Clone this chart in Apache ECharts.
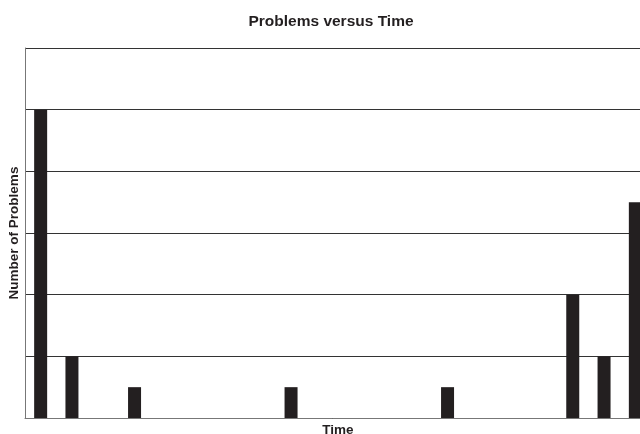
<!DOCTYPE html>
<html>
<head>
<meta charset="utf-8">
<script src="https://cdn.jsdelivr.net/npm/echarts@6/dist/echarts.min.js"></script>
<style>html,body{margin:0;padding:0;background:#fff;}#c{width:640px;height:434px;}</style>
</head>
<body>
<div id="c"></div>
<script>
var categories = ['1','2','3','4','5','6','7','8','9','10','11','12','13','14','15','16','17','18','19','20'];
var problems = [5, 1, 0, 0.5, 0, 0, 0, 0, 0.5, 0, 0, 0, 0, 0.5, 0, 0, 0, 2, 1, 3.5];
var chart = echarts.init(document.getElementById('c'));
chart.setOption({
  animation: false,
  backgroundColor: '#fff',
  title: {
    text: 'Problems versus Time',
    left: 326, top: 9, textAlign: 'center',
    textStyle: {fontFamily: 'Liberation Sans', fontWeight: 'bold', fontSize: 15.5, color: '#231f20'}
  },
  grid: {left: 25, top: 48, width: 626, height: 370, outerBoundsMode: 'none', containLabel: false},
  xAxis: {
    type: 'category', data: categories,
    name: 'Time', nameLocation: 'middle', nameGap: 5,
    nameTextStyle: {fontFamily: 'Liberation Sans', fontWeight: 'bold', fontSize: 13.5, color: '#231f20'},
    axisLine: {lineStyle: {color: '#777', width: 1}},
    axisTick: {show: false}, axisLabel: {show: false}
  },
  yAxis: {
    type: 'value', min: 0, max: 6, interval: 1,
    name: 'Number of Problems', nameLocation: 'middle', nameGap: 4,
    nameTextStyle: {fontFamily: 'Liberation Sans', fontWeight: 'bold', fontSize: 13.5, color: '#231f20'},
    axisLine: {show: true, lineStyle: {color: '#777', width: 1}},
    axisTick: {show: false}, axisLabel: {show: false},
    splitLine: {show: true, lineStyle: {color: '#333', width: 1}}
  },
  series: [{
    type: 'bar', data: problems, barWidth: 13,
    itemStyle: {color: '#231f20'}
  }]
});
</script>
</body>
</html>
